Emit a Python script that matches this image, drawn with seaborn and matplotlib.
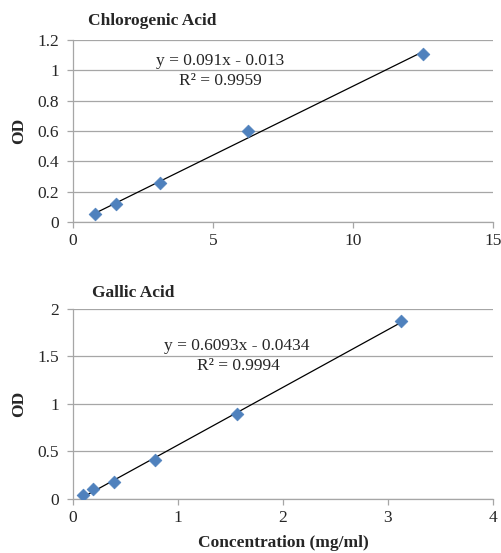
import numpy as np
import pandas as pd
import matplotlib
matplotlib.use("Agg")
import matplotlib.pyplot as plt
import seaborn as sns

# Chlorogenic acid standard curve
chl_conc = [0.78, 1.56, 3.125, 6.25, 12.5]
chl_od = [0.05, 0.12, 0.255, 0.60, 1.105]
chl_eq = "y = 0.091x - 0.013"
chl_r2 = "R² = 0.9959"

# Gallic acid standard curve
gal_conc = [0.098, 0.195, 0.39, 0.78, 1.56, 3.125]
gal_od = [0.04, 0.10, 0.18, 0.41, 0.89, 1.87]
gal_eq = "y = 0.6093x - 0.0434"
gal_r2 = "R² = 0.9994"

sns.set_style("white")
plt.rcParams["font.family"] = ["Liberation Serif", "DejaVu Serif"]
plt.rcParams["font.size"] = 12

fig = plt.figure(figsize=(5.02, 5.53), dpi=100)
ax1 = fig.add_axes([0.145, 0.5986, 0.837, 0.329])
ax2 = fig.add_axes([0.145, 0.0977, 0.837, 0.344])


def draw_curve(ax, conc, od, eq, r2, xlim, ylim, yticks, xticks, eq_pos, r2_pos):
    df = pd.DataFrame({"conc": conc, "od": od})
    sns.regplot(data=df, x="conc", y="od", ax=ax, ci=None, scatter=False,
                line_kws={"color": "black", "lw": 0.9})
    sns.scatterplot(data=df, x="conc", y="od", ax=ax, marker="D", s=42,
                    color="#4F81BD", edgecolor="#4F81BD", zorder=3)
    ax.set_xlim(*xlim)
    ax.set_ylim(*ylim)
    ax.set_yticks(yticks)
    ax.set_xticks(xticks)
    ax.set_yticklabels([f"{t:g}" for t in yticks])
    ax.set_xticklabels([f"{t:g}" for t in xticks])
    ax.yaxis.grid(True, color="#a6a6a6", lw=0.9)
    ax.xaxis.grid(False)
    for s in ["top", "right"]:
        ax.spines[s].set_visible(False)
    for s in ["left", "bottom"]:
        ax.spines[s].set_color("#a6a6a6")
        ax.spines[s].set_linewidth(0.9)
    ax.tick_params(axis="both", which="major", length=4, width=0.9,
                   color="#a6a6a6", labelsize=12.5, direction="out",
                   left=True, bottom=True)
    ax.tick_params(axis="y", pad=6)
    ax.tick_params(axis="x", pad=4)
    ax.set_ylabel("OD", fontweight="bold", fontsize=12.5, labelpad=7)
    ax.set_xlabel("")
    ax.text(eq_pos[0] / 502, 1 - eq_pos[1] / 553, eq, transform=fig.transFigure,
            ha="center", va="center", fontsize=12.5)
    ax.text(r2_pos[0] / 502, 1 - r2_pos[1] / 553, r2, transform=fig.transFigure,
            ha="center", va="center", fontsize=12.5)
    return ax


draw_curve(ax1, chl_conc, chl_od, chl_eq, chl_r2,
           (0, 15), (0, 1.2), [0, 0.2, 0.4, 0.6, 0.8, 1, 1.2], [0, 5, 10, 15],
           (220, 61), (220, 81))
draw_curve(ax2, gal_conc, gal_od, gal_eq, gal_r2,
           (0, 4), (0, 2), [0, 0.5, 1, 1.5, 2], [0, 1, 2, 3, 4],
           (237, 346), (238, 366))

fig.text(88 / 502, 1 - 21 / 553, "Chlorogenic Acid", fontweight="bold",
         fontsize=12.5, ha="left", va="center")
fig.text(92 / 502, 1 - 293 / 553, "Gallic Acid", fontweight="bold",
         fontsize=12.5, ha="left", va="center")
fig.text(283 / 502, 1 - 543 / 553, "Concentration (mg/ml)", fontweight="bold",
         fontsize=12.5, ha="center", va="center")

fig.savefig("out.png", dpi=100, facecolor="white")
